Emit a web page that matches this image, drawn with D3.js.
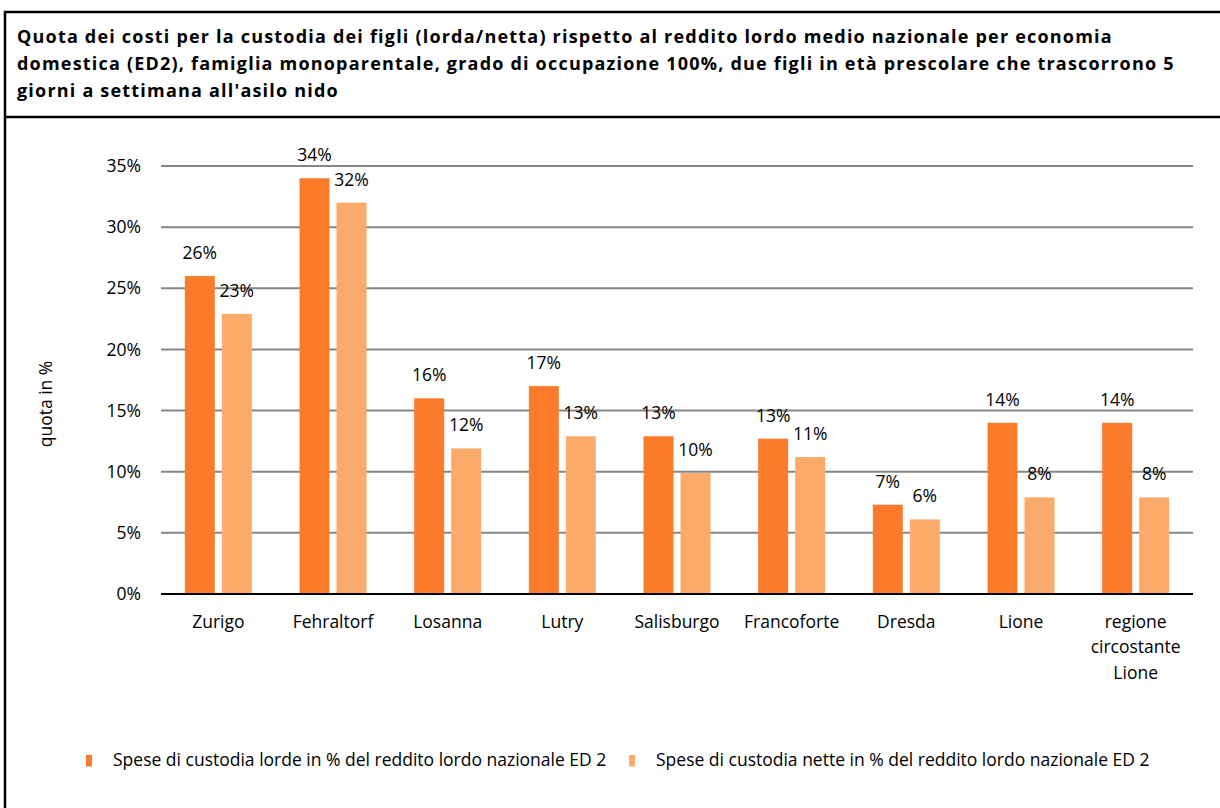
<!DOCTYPE html>
<html>
<head>
<meta charset="utf-8">
<script src="https://cdn.jsdelivr.net/npm/d3@7"></script>
<style>
  body { margin: 0; background: #fff; }
  svg { display: block; font-family: "Open Sans", Lato, sans-serif; }
</style>
</head>
<body>
<svg id="chart" width="1220" height="808"></svg>
<script>
// chart data
const cities = ['Zurigo', 'Fehraltorf', 'Losanna', 'Lutry', 'Salisburgo', 'Francoforte', 'Dresda', 'Lione', 'regione circostante Lione'];
const cityLines = [['Zurigo'], ['Fehraltorf'], ['Losanna'], ['Lutry'], ['Salisburgo'], ['Francoforte'], ['Dresda'], ['Lione'], ['regione', 'circostante', 'Lione']];
const grossShare = [26.0, 34.0, 16.0, 17.0, 12.9, 12.7, 7.3, 14.0, 14.0];
const netShare = [22.9, 32.0, 11.9, 12.9, 9.9, 11.2, 6.1, 7.9, 7.9];
const seriesNames = [
  'Spese di custodia lorde in % del reddito lordo nazionale ED 2',
  'Spese di custodia nette in % del reddito lordo nazionale ED 2'
];
const yTicks = [0, 5, 10, 15, 20, 25, 30, 35];
const titleLines = [
  'Quota dei costi per la custodia dei figli (lorda/netta) rispetto al reddito lordo medio nazionale per economia',
  'domestica (ED2), famiglia monoparentale, grado di occupazione 100%, due figli in età prescolare che trascorrono 5',
  "giorni a settimana all'asilo nido"
];
const yLabel = 'quota in %';

const colors = ['#fc7b2a', '#fcaa6a'];
const series = [grossShare, netShare];
const fontSize = 17.5;

const svg = d3.select('#chart');

// frame around the chart (continues past the right and bottom edges)
svg.append('rect')
  .attr('x', 5).attr('y', 12)
  .attr('width', 1240).attr('height', 820)
  .attr('fill', 'none').attr('stroke', '#000').attr('stroke-width', 2.5);
svg.append('line')
  .attr('x1', 5).attr('x2', 1220)
  .attr('y1', 117).attr('y2', 117)
  .attr('stroke', '#000').attr('stroke-width', 2.5);

// title
svg.append('g')
  .selectAll('text')
  .data(titleLines)
  .join('text')
  .attr('x', 17)
  .attr('y', (d, i) => 42.5 + i * 27.3)
  .attr('font-size', 18)
  .attr('font-weight', 'bold')
  .attr('letter-spacing', 1.2)
  .attr('fill', '#000')
  .text(d => d);

const plotLeft = 161, plotRight = 1193, plotTop = 166, plotBottom = 594;

const x0 = d3.scaleBand()
  .domain(cities)
  .range([plotLeft, plotRight])
  .paddingInner(0.416)
  .paddingOuter(0.208);

const x1 = d3.scaleBand()
  .domain([0, 1])
  .range([0, x0.bandwidth()])
  .paddingInner(0.19);

const y = d3.scaleLinear()
  .domain([0, 35])
  .range([plotBottom, plotTop]);

// grid lines
svg.append('g')
  .selectAll('line')
  .data(yTicks.filter(d => d > 0))
  .join('line')
  .attr('x1', plotLeft).attr('x2', plotRight)
  .attr('y1', d => y(d)).attr('y2', d => y(d))
  .attr('stroke', '#868686')
  .attr('stroke-width', 2);

// y axis labels
const yAxis = svg.append('g')
  .attr('transform', `translate(${plotLeft},0)`)
  .call(d3.axisLeft(y).tickValues(yTicks).tickFormat(d => d + '%').tickSize(0).tickPadding(20));
yAxis.select('.domain').remove();
yAxis.selectAll('text')
  .attr('font-family', '"Open Sans", Lato, sans-serif')
  .attr('font-size', fontSize)
  .attr('fill', '#000');

svg.append('text')
  .attr('transform', `translate(52,404) rotate(-90)`)
  .attr('text-anchor', 'middle')
  .attr('font-size', fontSize)
  .attr('fill', '#000')
  .text(yLabel);

// bars
const groups = svg.append('g')
  .selectAll('g')
  .data(cities)
  .join('g')
  .attr('transform', d => `translate(${x0(d)},0)`);

groups.selectAll('rect')
  .data((d, i) => series.map((s, k) => ({ k: k, v: s[i] })))
  .join('rect')
  .attr('x', d => x1(d.k))
  .attr('y', d => y(d.v))
  .attr('width', x1.bandwidth())
  .attr('height', d => y(0) - y(d.v))
  .attr('fill', d => colors[d.k]);

groups.selectAll('text.val')
  .data((d, i) => series.map((s, k) => ({ k: k, v: s[i] })))
  .join('text')
  .attr('class', 'val')
  .attr('x', d => x1(d.k) + x1.bandwidth() / 2)
  .attr('y', d => y(d.v) - 17)
  .attr('text-anchor', 'middle')
  .attr('font-size', fontSize)
  .attr('fill', '#000')
  .text(d => Math.round(d.v) + '%');

// baseline
svg.append('line')
  .attr('x1', plotLeft).attr('x2', plotRight)
  .attr('y1', y(0)).attr('y2', y(0))
  .attr('stroke', '#000')
  .attr('stroke-width', 2);

// category labels
svg.append('g')
  .selectAll('text')
  .data(cities)
  .join('text')
  .attr('x', d => x0(d) + x0.bandwidth() / 2)
  .attr('y', 627.5)
  .attr('text-anchor', 'middle')
  .attr('font-size', fontSize)
  .attr('fill', '#000')
  .each(function (d, i) {
    d3.select(this).selectAll('tspan')
      .data(cityLines[i])
      .join('tspan')
      .attr('x', x0(d) + x0.bandwidth() / 2)
      .attr('dy', (t, j) => j === 0 ? 0 : 25.5)
      .text(t => t);
  });

// legend
const legendX = [86, 629];
const legend = svg.append('g')
  .selectAll('g')
  .data(seriesNames)
  .join('g')
  .attr('transform', (d, i) => `translate(${legendX[i]},755)`);
legend.append('rect')
  .attr('width', 6).attr('height', 11.5)
  .attr('fill', (d, i) => colors[i]);
legend.append('text')
  .attr('x', 27).attr('y', 10.5)
  .attr('font-size', fontSize)
  .attr('fill', '#000')
  .text(d => d);
</script>
</body>
</html>
